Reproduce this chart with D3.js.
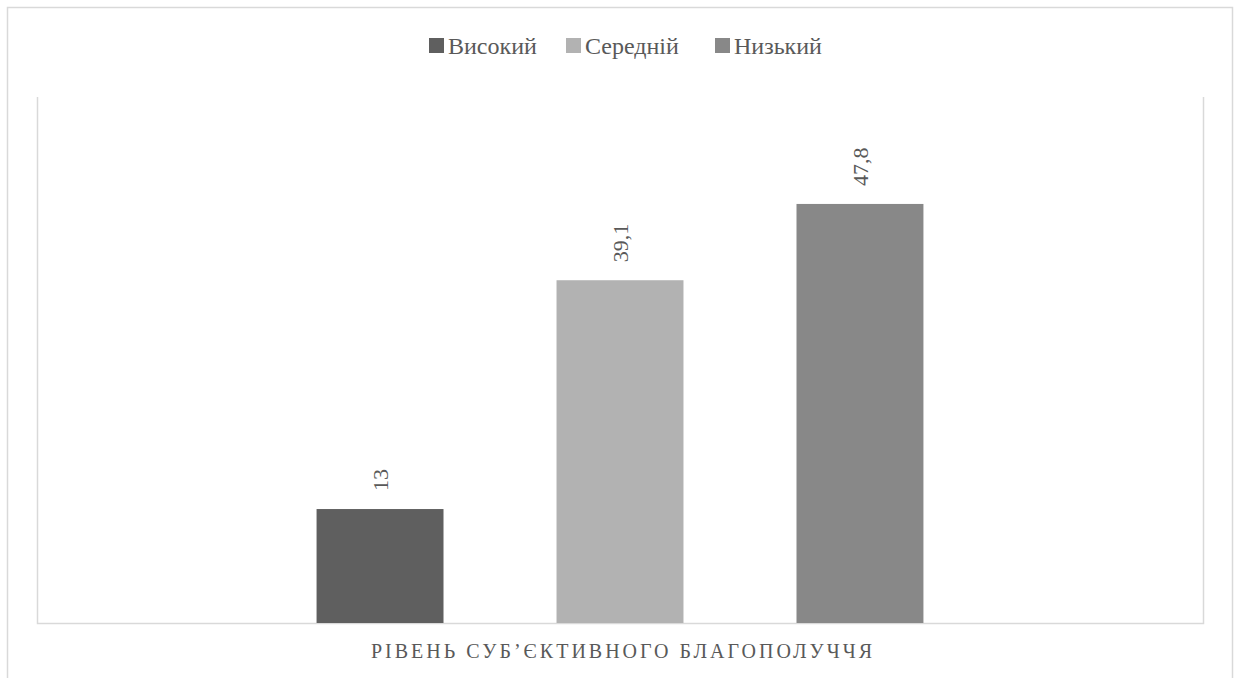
<!DOCTYPE html>
<html>
<head>
<meta charset="utf-8">
<script src="https://cdn.jsdelivr.net/npm/d3@7"></script>
<style>
  html, body { margin: 0; padding: 0; background: #fff; }
  svg { display: block; }
</style>
</head>
<body>
<svg id="chart" width="1234" height="678"></svg>
<script>
const categories = ["Рівень суб'єктивного благополуччя"];
const series = ["Високий", "Середній", "Низький"];
const values = [13, 39.1, 47.8];
const colors = ["#5f5f5f", "#b2b2b2", "#888888"];
const labels = ["13", "39,1", "47,8"];
const axisTitle = "РІВЕНЬ СУБ’ЄКТИВНОГО БЛАГОПОЛУЧЧЯ";

const W = 1234, H = 678;
const plot = { left: 37, right: 1203, top: 97, bottom: 623 };
const svg = d3.select("#chart");
const font = "'Liberation Serif', 'Times New Roman', serif";
const textColor = "#595959";
const lineColor = "#d9d9d9";

// outer chart border (open at bottom)
svg.append("path")
  .attr("d", `M7.5,${H} V7.5 H1232.5 V${H}`)
  .attr("fill", "none").attr("stroke", lineColor).attr("stroke-width", 1.5);

// scales
const y = d3.scaleLinear().domain([0, 60]).range([plot.bottom, plot.top]);
const x0 = d3.scaleBand().domain(categories).range([plot.left, plot.right]);
const x1 = d3.scaleBand().domain(series).range([0, x0.bandwidth()])
  .paddingInner(0.471).paddingOuter(1.165);

// plot area lines
svg.append("path")
  .attr("d", `M${plot.left + 0.5},${plot.top} V${plot.bottom + 0.5} H${plot.right + 0.5} V${plot.top}`)
  .attr("fill", "none").attr("stroke", lineColor).attr("stroke-width", 1.5);

const g = svg.append("g").attr("transform", `translate(${x0(categories[0])},0)`);

g.selectAll("rect.bar").data(series).join("rect")
  .attr("class", "bar")
  .attr("x", d => x1(d))
  .attr("width", x1.bandwidth())
  .attr("y", (d, i) => y(values[i]))
  .attr("height", (d, i) => y(0) - y(values[i]))
  .attr("fill", (d, i) => colors[i]);

g.selectAll("text.lbl").data(series).join("text")
  .attr("class", "lbl")
  .attr("transform", (d, i) => `translate(${x1(d) + x1.bandwidth() / 2 + 8},${y(values[i]) - 18}) rotate(-90)`)
  .attr("text-anchor", "start")
  .attr("font-family", font).attr("font-size", 22)
  .attr("fill", textColor)
  .text((d, i) => labels[i]);

// legend
const legendItems = [
  { sq: 429, tx: 448 },
  { sq: 566, tx: 585 },
  { sq: 715, tx: 734 }
];
const lg = svg.append("g");
series.forEach((s, i) => {
  lg.append("rect").attr("x", legendItems[i].sq).attr("y", 38).attr("width", 15).attr("height", 15)
    .attr("fill", colors[i]);
  lg.append("text").attr("x", legendItems[i].tx).attr("y", 54)
    .attr("font-family", font).attr("font-size", 24).attr("fill", textColor)
    .text(s);
});

// axis title
svg.append("text")
  .attr("x", (plot.left + plot.right) / 2 + 3)
  .attr("y", 658)
  .attr("text-anchor", "middle")
  .attr("font-family", font).attr("font-size", 20)
  .attr("letter-spacing", "3px")
  .attr("fill", textColor)
  .text(axisTitle);
</script>
</body>
</html>
